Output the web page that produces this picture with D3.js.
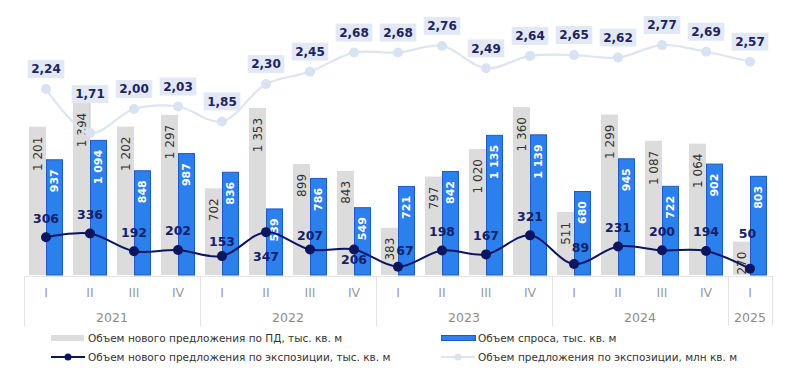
<!DOCTYPE html>
<html><head><meta charset="utf-8">
<script src="https://cdn.jsdelivr.net/npm/d3@7"></script>
<style>body{margin:0;background:#fff}svg{display:block}</style>
</head><body><svg id="c" width="800" height="380"></svg>
<script>
const quarters = ["I","II","III","IV","I","II","III","IV","I","II","III","IV","I","II","III","IV","I"];
const years = ["2021","2022","2023","2024","2025"];
const yearQuarterCounts = [4,4,4,4,1];
const newSupplyPD = [1201,1394,1202,1297,702,1353,899,843,383,797,1020,1360,511,1299,1087,1064,270];
const demand = [937,1094,848,987,836,539,786,549,721,842,1135,1139,680,945,722,902,803];
const newSupplyExpo = [306,336,192,202,153,347,207,206,67,198,167,321,89,231,200,194,50];
const supplyExpo = [2.24,1.71,2.00,2.03,1.85,2.30,2.45,2.68,2.68,2.76,2.49,2.64,2.65,2.62,2.77,2.69,2.57];
const legendLabels = [
  "Объем нового предложения по ПД, тыс. кв. м",
  "Объем спроса, тыс. кв. м",
  "Объем нового предложения по экспозиции, тыс. кв. м",
  "Объем предложения по экспозиции, млн кв. м"
];

const loc = d3.formatLocale({decimal:",", thousands:" ", grouping:[3], currency:["",""]});
const fInt = loc.format(",d");
const fDec = loc.format(".2f");

const svg = d3.select("#c");
const FONT = "'DejaVu Sans', Verdana, sans-serif";
const idx = d3.range(quarters.length);
const x = d3.scaleBand().domain(idx).range([24, 772]);
const cx = i => x(i) + x.bandwidth() / 2;
const y = d3.scaleLinear().domain([0, 2000]).range([275, 28]);
const y2 = d3.scaleLinear().domain([0, 3]).range([275, 26]);
const bw = 17;

// axis frame
const g = svg.append("g");
g.append("line").attr("x1", 24).attr("x2", 772).attr("y1", 276.5).attr("y2", 276.5)
  .attr("stroke", "#e4e4e4").attr("stroke-width", 1);
let acc = 0;
const bounds = [0];
yearQuarterCounts.forEach(n => { acc += n; bounds.push(acc); });
bounds.forEach(b => {
  const xx = b < quarters.length ? x(b) : x(quarters.length - 1) + x.bandwidth();
  g.append("line").attr("x1", xx + 0.5).attr("x2", xx + 0.5).attr("y1", 276).attr("y2", 326)
    .attr("stroke", "#e4e4e4");
});
g.selectAll(".q").data(quarters).enter().append("text")
  .attr("x", (d, i) => cx(i)).attr("y", 293).attr("dy", "0.35em")
  .attr("text-anchor", "middle").attr("font-family", FONT).attr("font-size", 12.5)
  .attr("fill", "#9a9a9a").text(d => d);
years.forEach((yr, k) => {
  const a = x(bounds[k]);
  const bEnd = bounds[k + 1];
  const b = x(bEnd - 1) + x.bandwidth();
  g.append("text").attr("x", (a + b) / 2).attr("y", 318).attr("dy", "0.35em")
    .attr("text-anchor", "middle").attr("font-family", FONT).attr("font-size", 12.5)
    .attr("fill", "#8c8c8c").text(yr);
});

// bars
svg.selectAll(".gb").data(newSupplyPD).enter().append("rect")
  .attr("x", (d, i) => cx(i) - bw).attr("width", bw)
  .attr("y", d => y(d)).attr("height", d => y(0) - y(d)).attr("fill", "#dcdcdc");
svg.selectAll(".bb").data(demand).enter().append("rect")
  .attr("x", (d, i) => cx(i) + 0.5).attr("width", bw - 1)
  .attr("y", d => y(d) + 0.5).attr("height", d => y(0) - y(d) - 0.5)
  .attr("fill", "#2b80ee").attr("stroke", "#1a5bc4").attr("stroke-width", 1);

// bar labels
svg.selectAll(".gl").data(newSupplyPD).enter().append("text")
  .attr("transform", (d, i) => `translate(${cx(i) - bw / 2},${y(d) + 10}) rotate(-90)`)
  .attr("text-anchor", "end").attr("dy", "0.35em")
  .attr("font-family", FONT).attr("font-size", 12).attr("fill", "#333")
  .text(d => fInt(d));
svg.selectAll(".bl").data(demand).enter().append("text")
  .attr("transform", (d, i) => `translate(${cx(i) + bw / 2},${y(d) + 10}) rotate(-90)`)
  .attr("text-anchor", "end").attr("dy", "0.35em")
  .attr("font-family", FONT).attr("font-size", 11).attr("font-weight", "bold").attr("fill", "#fff")
  .text(d => fInt(d));

// dark line
const NAVY = "#0b1560";
const darkLine = d3.line().x((d, i) => cx(i)).y(d => y(d)).curve(d3.curveCatmullRom.alpha(0.5));
svg.append("path").attr("d", darkLine(newSupplyExpo)).attr("fill", "none")
  .attr("stroke", NAVY).attr("stroke-width", 2);
svg.selectAll(".dp").data(newSupplyExpo).enter().append("circle")
  .attr("cx", (d, i) => cx(i)).attr("cy", d => y(d)).attr("r", 5).attr("fill", NAVY);

// light line
const LIGHT = "#dde5f1";
const lightLine = d3.line().x((d, i) => cx(i)).y(d => y2(d)).curve(d3.curveCatmullRom.alpha(0.5));
svg.append("path").attr("d", lightLine(supplyExpo)).attr("fill", "none")
  .attr("stroke", LIGHT).attr("stroke-width", 2.2);
svg.selectAll(".lp").data(supplyExpo).enter().append("circle")
  .attr("cx", (d, i) => cx(i)).attr("cy", d => y2(d)).attr("r", 5).attr("fill", "#d9e2f1");

// dark line labels (placement offsets)
const darkOff = {5: [0, 24.5], 6: [0, -14], 7: [0, 10.5], 4: [0, -14], 8: [7, -16.5], 12: [6.5, -16], 16: [-2.5, -35]};
svg.selectAll(".dl").data(newSupplyExpo).enter().append("text")
  .attr("x", (d, i) => cx(i) + (darkOff[i] ? darkOff[i][0] : 0))
  .attr("y", (d, i) => y(d) + (darkOff[i] ? darkOff[i][1] : -19))
  .attr("dy", "0.35em").attr("text-anchor", "middle")
  .attr("font-family", FONT).attr("font-size", 12.5).attr("font-weight", "bold").attr("fill", "#14206a")
  .text(d => fInt(d));

// light line labels
const lightOff = {1: -39};
supplyExpo.forEach((d, i) => {
  const px = cx(i), py = y2(d);
  const ly = py + (lightOff[i] !== undefined ? lightOff[i] : -20);
  const gg = svg.append("g");
  if (lightOff[i] !== undefined) {
    gg.append("line").attr("x1", px).attr("x2", px).attr("y1", ly + 8).attr("y2", py - 5)
      .attr("stroke", "#c8c8c8").attr("stroke-width", 1);
  }
  const t = gg.append("text").attr("x", px).attr("y", ly).attr("dy", "0.35em").attr("text-anchor", "middle")
    .attr("font-family", FONT).attr("font-size", 12).attr("font-weight", "bold").attr("fill", "#1b2460")
    .text(fDec(d));
  const bb = t.node().getBBox();
  gg.insert("rect", "text").attr("x", bb.x - 3.5).attr("y", ly - 9).attr("width", bb.width + 7).attr("height", 18)
    .attr("fill", "#e3e9f4");
});

// legend
const lg = svg.append("g").attr("font-family", FONT).attr("font-size", 10.5).attr("fill", "#333");
const cols = [51, 441], rows = [338, 357];
// item 0: gray bar
lg.append("rect").attr("x", cols[0]).attr("y", rows[0] - 3).attr("width", 33).attr("height", 6).attr("fill", "#dcdcdc");
// item 1: blue bar
lg.append("rect").attr("x", cols[1] + 0.5).attr("y", rows[0] - 2.5).attr("width", 34).attr("height", 5)
  .attr("fill", "#2b80ee").attr("stroke", "#1a5bc4");
// item 2: dark line
lg.append("line").attr("x1", cols[0]).attr("x2", cols[0] + 34).attr("y1", rows[1]).attr("y2", rows[1])
  .attr("stroke", NAVY).attr("stroke-width", 2);
lg.append("circle").attr("cx", cols[0] + 17).attr("cy", rows[1]).attr("r", 3.5).attr("fill", NAVY);
// item 3: light line
lg.append("line").attr("x1", cols[1]).attr("x2", cols[1] + 34).attr("y1", rows[1]).attr("y2", rows[1])
  .attr("stroke", LIGHT).attr("stroke-width", 2);
lg.append("circle").attr("cx", cols[1] + 17).attr("cy", rows[1]).attr("r", 3.5).attr("fill", "#d9e2f1");
[[0, 0], [1, 1], [2, 0], [3, 1]].forEach(([k, c], j) => {
  lg.append("text").attr("x", cols[c] + 37).attr("y", rows[Math.floor(j / 2)]).attr("dy", "0.35em")
    .text(legendLabels[k]);
});
</script></body></html>
